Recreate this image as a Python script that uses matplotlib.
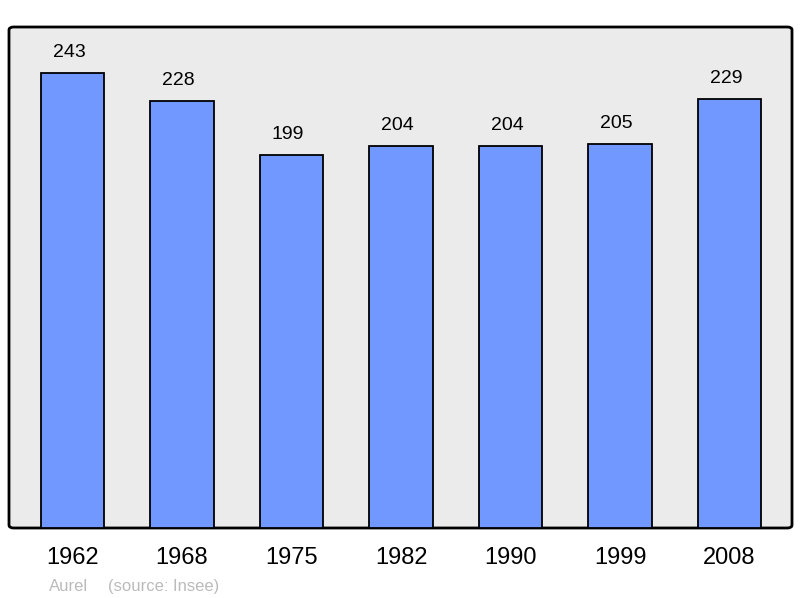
import matplotlib
matplotlib.use("Agg")
import matplotlib.pyplot as plt
from matplotlib.patches import FancyBboxPatch

years = ["1962", "1968", "1975", "1982", "1990", "1999", "2008"]
population = [243, 228, 199, 204, 204, 205, 229]

plt.rcParams['font.family'] = ['Liberation Sans', 'DejaVu Sans']

fig = plt.figure(figsize=(8, 5.98), dpi=100)
ax = fig.add_axes([9/800, 70/598, 783/800, 501/598])
ax.set_facecolor('none')
for s in ax.spines.values():
    s.set_visible(False)

frame = FancyBboxPatch((0, 0), 1, 1,
                       boxstyle="round,pad=0,rounding_size=0.006",
                       transform=ax.transAxes, facecolor='#ebebeb',
                       edgecolor='black', linewidth=2, zorder=0, clip_on=False)
ax.add_patch(frame)

x = list(range(len(years)))
ax.bar(x, population, width=0.578, color='#7098ff', edgecolor='black',
       linewidth=1.3, zorder=2)
for xi, v in zip(x, population):
    ax.annotate(str(v), (xi, v), xytext=(-2.5, 9), textcoords='offset points',
                ha='center', va='bottom', fontsize=14, color='black')

ax.set_xlim(-0.58, 6.57)
ax.set_ylim(0, 267.6)
ax.set_yticks([])
ax.set_xticks(x)
ax.set_xticklabels(years, fontsize=17)
ax.tick_params(axis='x', length=0, pad=14)

fig.text(49/800, 1 - 591/598, "Aurel", fontsize=12,
         color='#bbbbbb', ha='left', va='baseline')
fig.text(108/800, 1 - 591/598, "(source: Insee)", fontsize=12,
         color='#bbbbbb', ha='left', va='baseline')

fig.savefig("out.png", dpi=100)
